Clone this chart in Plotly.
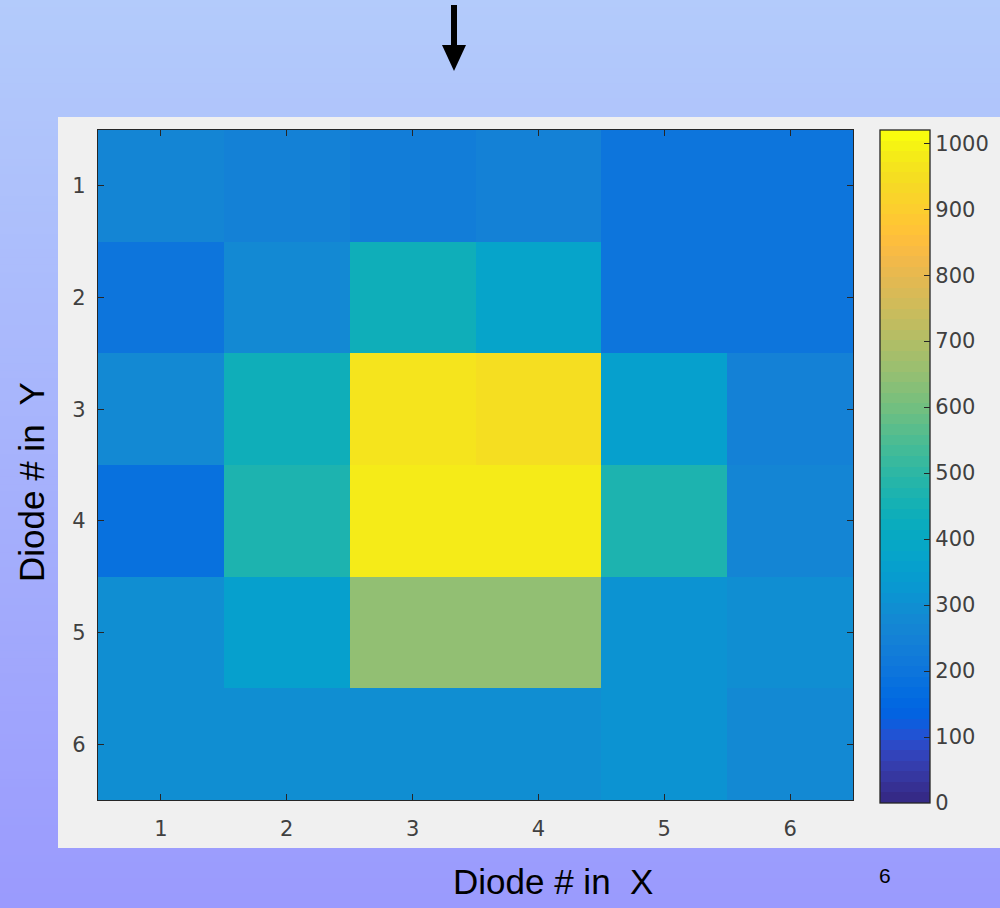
import plotly.graph_objects as go

# ---------------- data ----------------
x_diodes = [1, 2, 3, 4, 5, 6]
y_diodes = [1, 2, 3, 4, 5, 6]
row1 = [262, 246, 238, 240, 199, 199]
row2 = [207, 278, 445, 374, 203, 203]
row3 = [278, 437, 965, 947, 362, 246]
row4 = [180, 477, 980, 980, 477, 262]
row5 = [294, 358, 644, 644, 310, 294]
row6 = [294, 294, 294, 294, 314, 278]
z_values = [row1, row2, row3, row4, row5, row6]
cbar_ticks = [0, 100, 200, 300, 400, 500, 600, 700, 800, 900, 1000]
z_min, z_max = 0, 1020

x_title = "Diode # in  X"
y_title = "Diode # in  Y"
page_number = "6"

# MATLAB parula (64)
parula = [
    (0.2081, 0.1663, 0.5292), (0.2116, 0.1898, 0.5777), (0.2123, 0.2138, 0.6270), (0.2081, 0.2386, 0.6771),
    (0.1959, 0.2645, 0.7279), (0.1707, 0.2919, 0.7792), (0.1253, 0.3242, 0.8303), (0.0591, 0.3598, 0.8683),
    (0.0117, 0.3875, 0.8820), (0.0060, 0.4086, 0.8828), (0.0165, 0.4266, 0.8786), (0.0329, 0.4430, 0.8720),
    (0.0498, 0.4586, 0.8641), (0.0629, 0.4737, 0.8554), (0.0723, 0.4887, 0.8467), (0.0779, 0.5040, 0.8384),
    (0.0793, 0.5200, 0.8312), (0.0749, 0.5375, 0.8263), (0.0641, 0.5570, 0.8240), (0.0488, 0.5772, 0.8228),
    (0.0343, 0.5966, 0.8199), (0.0265, 0.6137, 0.8135), (0.0239, 0.6287, 0.8038), (0.0231, 0.6418, 0.7913),
    (0.0228, 0.6535, 0.7768), (0.0267, 0.6642, 0.7607), (0.0384, 0.6743, 0.7436), (0.0590, 0.6838, 0.7254),
    (0.0843, 0.6928, 0.7062), (0.1133, 0.7015, 0.6859), (0.1453, 0.7098, 0.6646), (0.1801, 0.7177, 0.6424),
    (0.2178, 0.7250, 0.6193), (0.2586, 0.7317, 0.5954), (0.3022, 0.7376, 0.5712), (0.3482, 0.7424, 0.5473),
    (0.3953, 0.7459, 0.5244), (0.4420, 0.7481, 0.5033), (0.4871, 0.7491, 0.4840), (0.5300, 0.7491, 0.4661),
    (0.5709, 0.7485, 0.4494), (0.6099, 0.7473, 0.4337), (0.6473, 0.7456, 0.4188), (0.6834, 0.7435, 0.4044),
    (0.7184, 0.7411, 0.3905), (0.7525, 0.7384, 0.3768), (0.7858, 0.7356, 0.3633), (0.8185, 0.7327, 0.3498),
    (0.8507, 0.7299, 0.3360), (0.8824, 0.7274, 0.3217), (0.9139, 0.7258, 0.3063), (0.9450, 0.7261, 0.2886),
    (0.9739, 0.7314, 0.2666), (0.9938, 0.7455, 0.2403), (0.9990, 0.7653, 0.2164), (0.9955, 0.7861, 0.1967),
    (0.9880, 0.8066, 0.1794), (0.9789, 0.8271, 0.1633), (0.9697, 0.8481, 0.1475), (0.9626, 0.8705, 0.1309),
    (0.9589, 0.8949, 0.1132), (0.9598, 0.9218, 0.0948), (0.9661, 0.9514, 0.0755), (0.9763, 0.9831, 0.0538),
]

def rgb(c):
    return "rgb(%d,%d,%d)" % tuple(round(v * 255) for v in c)

n = len(parula)
colorscale = []
for i, c in enumerate(parula):
    colorscale.append([i / n, rgb(c)])
    colorscale.append([(i + 1) / n, rgb(c)])

# ---------------- page geometry (pixels) ----------------
W, H = 1000, 908
PX0, PX1, PY0, PY1 = 98, 853, 130, 800  # plot area
def px(x):
    return x / W
def py(y):
    return 1 - y / H

fig = go.Figure()
fig.add_trace(go.Heatmap(
    x=x_diodes, y=y_diodes, z=z_values,
    zmin=z_min, zmax=z_max, colorscale=colorscale,
    xgap=0, ygap=0, hoverinfo="x+y+z",
    colorbar=dict(
        x=px(880), xanchor="left", xpad=0,
        y=py(130), yanchor="top", ypad=0,
        len=673, lenmode="pixels",
        thickness=50, thicknessmode="pixels",
        outlinecolor="#262626", outlinewidth=1.3,
        tickmode="array", tickvals=cbar_ticks,
        tickprefix="\u00a0",
        ticks="inside", ticklen=6, tickcolor="#262626", tickwidth=1.3,
        tickfont=dict(family="DejaVu Sans", size=21, color="#404040"),
    ),
))

shapes = []
# slide background gradient
top = (0xB3, 0xCB, 0xFB)
bot = (0x9A, 0x9A, 0xFD)
nb = 120
for i in range(nb):
    t = (i + 0.5) / nb
    col = "rgb(%d,%d,%d)" % tuple(round(a + (b - a) * t) for a, b in zip(top, bot))
    shapes.append(dict(type="rect", xref="paper", yref="paper", layer="below",
                       x0=0, x1=1, y0=1 - i / nb, y1=1 - (i + 1) / nb - 0.001,
                       fillcolor=col, line=dict(width=0)))
# figure panel
shapes.append(dict(type="rect", xref="paper", yref="paper", layer="below",
                   x0=px(58), x1=1.01, y0=py(117), y1=py(848),
                   fillcolor="#f0f0f0", line=dict(width=0)))
# arrow
shapes.append(dict(type="line", xref="paper", yref="paper",
                   x0=px(454), x1=px(454), y0=py(5), y1=py(48),
                   line=dict(color="black", width=6)))
shapes.append(dict(type="path", xref="paper", yref="paper",
                   path="M %f,%f L %f,%f L %f,%f Z" % (px(442), py(45), px(466), py(45), px(454), py(71)),
                   fillcolor="black", line=dict(width=0)))

axis_common = dict(
    showline=True, mirror="ticks", linecolor="#262626", linewidth=1.3,
    ticks="inside", ticklen=6, tickcolor="#262626", tickwidth=1.3,
    showgrid=False, zeroline=False,
    tickfont=dict(family="DejaVu Sans", size=21, color="#404040"),
    tickmode="array",
)

fig.update_layout(
    width=W, height=H,
    margin=dict(l=0, r=0, t=0, b=0),
    paper_bgcolor="#a6b2fc",
    plot_bgcolor="rgba(0,0,0,0)",
    xaxis=dict(domain=[px(PX0), px(PX1)], range=[0.5, 6.5], tickvals=x_diodes,
               ticklabelstandoff=10, **axis_common),
    yaxis=dict(domain=[py(PY1), py(PY0)], range=[6.5, 0.5], tickvals=y_diodes,
               ticklabelstandoff=7, **axis_common),
    shapes=shapes,
    showlegend=False,
    annotations=[
        dict(text=x_title, xref="paper", yref="paper", x=px(553), y=py(881),
             xanchor="center", yanchor="middle", showarrow=False,
             font=dict(family="Liberation Sans", size=35, color="black")),
        dict(text=y_title, xref="paper", yref="paper", x=px(31), y=py(482),
             xanchor="center", yanchor="middle", showarrow=False, textangle=-90,
             font=dict(family="Liberation Sans", size=35, color="black")),
        dict(text=page_number, xref="paper", yref="paper", x=px(885), y=py(875),
             xanchor="center", yanchor="middle", showarrow=False,
             font=dict(family="Liberation Sans", size=21, color="black")),
    ],
)

fig.write_html("out.html")
